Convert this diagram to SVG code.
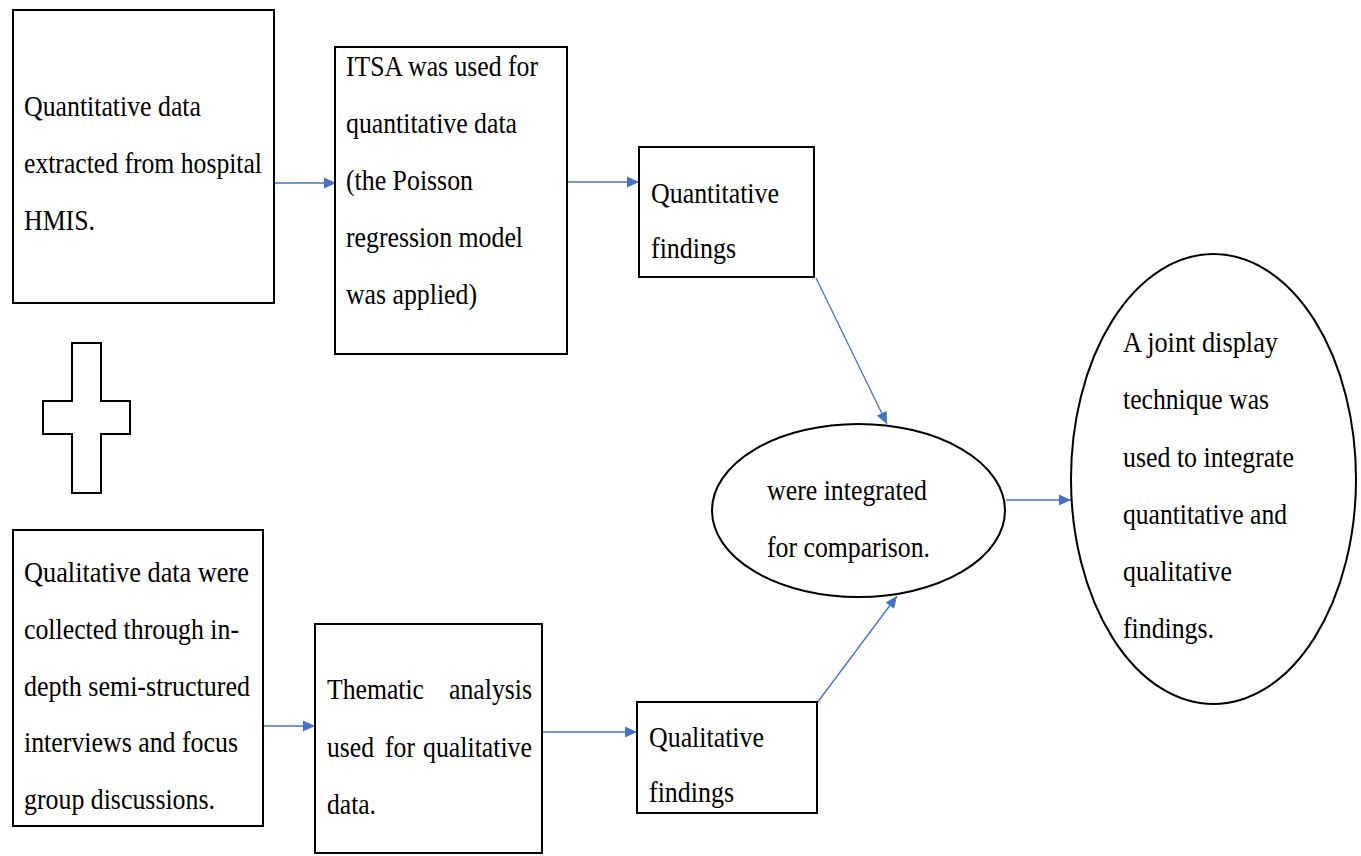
<svg xmlns="http://www.w3.org/2000/svg" width="1361" height="856" viewBox="0 0 1361 856" font-family="'Liberation Serif', 'DejaVu Serif', serif">
<style>
.box{fill:#fff;stroke:#000;stroke-width:2}
.t{font-size:30px;fill:#000}
.c{stroke:#4472C4;stroke-width:1.3;fill:none;marker-end:url(#ah)}
</style>
<defs>
<marker id="ah" markerUnits="userSpaceOnUse" markerWidth="12" markerHeight="12" viewBox="0 0 10 10" refX="10" refY="5" orient="auto">
<path d="M0,0.5 L10,5 L0,9.5 Z" fill="#4472C4"/>
</marker>
</defs>
<rect width="1361" height="856" fill="#fff"/>
<g id="connectors">
<line class="c" x1="274" y1="183" x2="336" y2="183"/>
<line class="c" x1="567" y1="182" x2="639" y2="182"/>
<line class="c" x1="816" y1="278" x2="887" y2="424"/>
<line class="c" x1="263" y1="726" x2="315" y2="726"/>
<line class="c" x1="542" y1="732" x2="637" y2="732"/>
<line class="c" x1="817" y1="703" x2="897" y2="596"/>
<line class="c" x1="1006" y1="500" x2="1071" y2="500"/>
</g>
<g id="quant-data">
<rect class="box" x="13" y="10" width="261" height="293"/>
<text class="t" x="24" y="116" textLength="177" lengthAdjust="spacingAndGlyphs">Quantitative data</text>
<text class="t" x="24" y="173" textLength="238" lengthAdjust="spacingAndGlyphs">extracted from hospital</text>
<text class="t" x="24" y="230" textLength="71" lengthAdjust="spacingAndGlyphs">HMIS.</text>
</g>
<g id="itsa">
<rect class="box" x="335" y="47" width="232" height="307"/>
<text class="t" x="346" y="76" textLength="192" lengthAdjust="spacingAndGlyphs">ITSA was used for</text>
<text class="t" x="346" y="133" textLength="171" lengthAdjust="spacingAndGlyphs">quantitative data</text>
<text class="t" x="346" y="190" textLength="127" lengthAdjust="spacingAndGlyphs">(the Poisson</text>
<text class="t" x="346" y="247" textLength="177" lengthAdjust="spacingAndGlyphs">regression model</text>
<text class="t" x="346" y="304" textLength="131" lengthAdjust="spacingAndGlyphs">was applied)</text>
</g>
<g id="quant-findings">
<rect class="box" x="639" y="147" width="175" height="130"/>
<text class="t" x="651" y="203" textLength="128" lengthAdjust="spacingAndGlyphs">Quantitative</text>
<text class="t" x="651" y="258" textLength="85" lengthAdjust="spacingAndGlyphs">findings</text>
</g>
<g id="plus">
<polygon points="72,343 101,343 101,401 130,401 130,434 101,434 101,493 72,493 72,434 43,434 43,401 72,401" fill="#fff" stroke="#000" stroke-width="2"/>
</g>
<g id="qual-data">
<rect class="box" x="13" y="530" width="250" height="296"/>
<text class="t" x="24" y="582" textLength="225" lengthAdjust="spacingAndGlyphs">Qualitative data were</text>
<text class="t" x="24" y="639" textLength="215" lengthAdjust="spacingAndGlyphs">collected through in-</text>
<text class="t" x="24" y="696" textLength="226" lengthAdjust="spacingAndGlyphs">depth semi-structured</text>
<text class="t" x="24" y="752" textLength="214" lengthAdjust="spacingAndGlyphs">interviews and focus</text>
<text class="t" x="24" y="809" textLength="191" lengthAdjust="spacingAndGlyphs">group discussions.</text>
</g>
<g id="thematic">
<rect class="box" x="315" y="624" width="227" height="229"/>
<text class="t" x="327" y="699" textLength="97" lengthAdjust="spacingAndGlyphs">Thematic</text>
<text class="t" x="449" y="699" textLength="83" lengthAdjust="spacingAndGlyphs">analysis</text>
<text class="t" x="327" y="757" textLength="47" lengthAdjust="spacingAndGlyphs">used</text>
<text class="t" x="385" y="757" textLength="30" lengthAdjust="spacingAndGlyphs">for</text>
<text class="t" x="423" y="757" textLength="109" lengthAdjust="spacingAndGlyphs">qualitative</text>
<text class="t" x="327" y="814" textLength="49" lengthAdjust="spacingAndGlyphs">data.</text>
</g>
<g id="qual-findings">
<rect class="box" x="637" y="702" width="180" height="111"/>
<text class="t" x="649" y="747" textLength="115" lengthAdjust="spacingAndGlyphs">Qualitative</text>
<text class="t" x="649" y="802" textLength="85" lengthAdjust="spacingAndGlyphs">findings</text>
</g>
<g id="integrated">
<ellipse class="box" cx="858.5" cy="510.5" rx="146.5" ry="86.5"/>
<text class="t" x="767" y="500" textLength="160" lengthAdjust="spacingAndGlyphs">were integrated</text>
<text class="t" x="767" y="557" textLength="163" lengthAdjust="spacingAndGlyphs">for comparison.</text>
</g>
<g id="joint-display">
<ellipse class="box" cx="1213.5" cy="479" rx="142.5" ry="225"/>
<text class="t" x="1123" y="352" textLength="155" lengthAdjust="spacingAndGlyphs">A joint display</text>
<text class="t" x="1123" y="409" textLength="146" lengthAdjust="spacingAndGlyphs">technique was</text>
<text class="t" x="1123" y="467" textLength="171" lengthAdjust="spacingAndGlyphs">used to integrate</text>
<text class="t" x="1123" y="524" textLength="164" lengthAdjust="spacingAndGlyphs">quantitative and</text>
<text class="t" x="1123" y="581" textLength="109" lengthAdjust="spacingAndGlyphs">qualitative</text>
<text class="t" x="1123" y="638" textLength="91" lengthAdjust="spacingAndGlyphs">findings.</text>
</g>
</svg>
